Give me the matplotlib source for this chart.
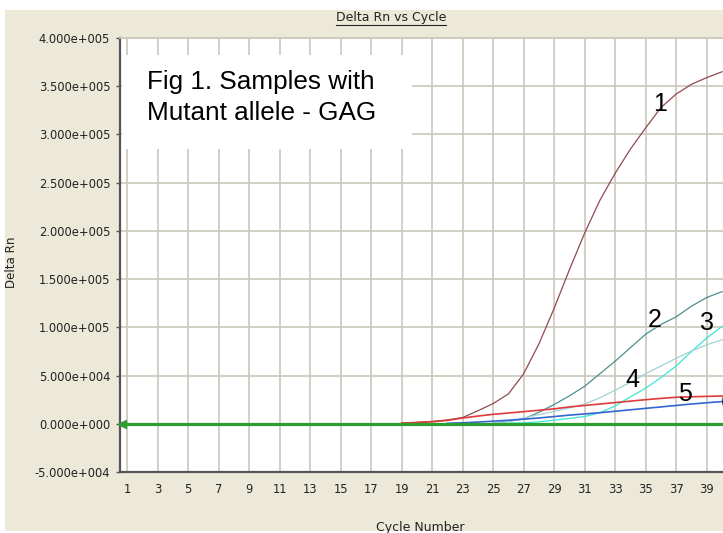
import matplotlib
matplotlib.use("Agg")
import matplotlib.pyplot as plt
from matplotlib.patches import Rectangle
from matplotlib.lines import Line2D

W, H, DPI = 723, 533, 100

# ---- data (Delta Rn per cycle) ----
cycles_a = list(range(19, 41))
curve1 = [0, 1500, 2500, 4000, 6500, 13500, 21000, 31000, 52000, 83000, 120000,
          160000, 198000, 232000, 260000, 285000, 307000, 328000, 342000,
          352000, 359000, 365000]
curve5 = [800, 1300, 2000, 3500, 6000, 8000, 9800, 11200, 12600, 14000, 15500,
          17500, 19000, 20500, 22000, 23500, 25000, 26300, 27500, 28000, 28400,
          28800]
cycles_b = list(range(22, 41))
curve6 = [500, 1000, 1800, 2700, 3700, 4800, 6000, 7500, 9000, 10200, 11500,
          13000, 14500, 16000, 17500, 19000, 20500, 21800, 23000]
cycles_c = list(range(25, 41))
curve2 = [1000, 2500, 5000, 12000, 20000, 29000, 39000, 52000, 65000, 79000,
          93000, 103000, 111000, 122000, 131000, 137000]
curve3 = [300, 600, 1000, 2000, 3800, 5500, 7500, 11500, 18500, 28000, 37000,
          48000, 60000, 75000, 89000, 101000]
curve4 = [1000, 2500, 6000, 9500, 13000, 16500, 20500, 27000, 35000, 43000,
          52000, 60000, 68000, 75500, 82000, 87000]
threshold = 0

series = [
    (cycles_a, curve1, "#8E4A50", "1", 35.94, 331700),
    (cycles_c, curve2, "#4A9090", "2", 35.6, 107700),
    (cycles_c, curve3, "#38E8D4", "3", 39.0, 104300),
    (cycles_c, curve4, "#A2D2D2", "4", 34.1, 45400),
    (cycles_a, curve5, "#E03A3A", "5", 37.58, 30600),
    (cycles_b, curve6, "#3366D0", "6", 40.38, 21300),
]

yticks = [-50000, 0, 50000, 100000, 150000, 200000, 250000, 300000, 350000, 400000]
ytick_labels = ["-5.000e+004", "0.000e+000", "5.000e+004", "1.000e+005",
                "1.500e+005", "2.000e+005", "2.500e+005", "3.000e+005",
                "3.500e+005", "4.000e+005"]
xticks = list(range(1, 40, 2))
xtick_labels = [str(v) for v in xticks]

title = "Delta Rn vs Cycle"
xlabel = "Cycle Number"
ylabel = "Delta Rn"
box_lines = ["Fig 1. Samples with", "Mutant allele - GAG"]

# ---- figure ----
fig = plt.figure(figsize=(W / DPI, H / DPI), dpi=DPI, facecolor="white")
fig.patches.append(Rectangle((5 / W, 2 / H), 1, (H - 12) / H,
                             transform=fig.transFigure, facecolor="#ECE9D8",
                             edgecolor="none", zorder=-10))

ax = fig.add_axes([120 / W, (H - 472) / H, (W - 120) / W, 434 / H])
ax.set_facecolor("white")
ax.set_xlim(0.54, 40.06)
ax.set_ylim(-50000, 400000)

grid_c = "#CBC7BA"
ax.set_xticks(xticks)
ax.set_xticklabels(xtick_labels)
ax.set_yticks(yticks)
ax.set_yticklabels(ytick_labels)
ax.grid(True, color=grid_c, linewidth=1.2)
ax.set_axisbelow(True)
ax.tick_params(axis="x", length=0, pad=8, labelsize=8.3, labelcolor="#222222")
ax.tick_params(axis="y", length=3, width=1, color="#555555", pad=4,
               labelsize=8.3, labelcolor="#222222")
for s in ["left", "bottom"]:
    ax.spines[s].set_color("#555555")
    ax.spines[s].set_linewidth(1.6)
ax.spines["top"].set_color(grid_c)
ax.spines["top"].set_linewidth(1.2)
ax.spines["right"].set_visible(False)

for xs, ys, col, lab, lx, ly in series:
    lw = 1.2 if lab in ("5", "6") else 0.9
    ax.plot(xs, ys, color=col, linewidth=lw, zorder=3)
    ax.text(lx, ly, lab, fontsize=18, family="Liberation Sans", ha="center",
            va="center", color="black", zorder=6)

green = "#2E9E32"
ax.axhline(threshold, color=green, linewidth=2.3, zorder=4)
ax.plot([0.66], [threshold], marker="<", markersize=6, color=green,
        clip_on=False, zorder=5)

# text box
fig.patches.append(Rectangle((122 / W, (H - 149) / H), 290 / W, 94 / H,
                             transform=fig.transFigure, facecolor="white",
                             edgecolor="none", zorder=5))
fig.text(147 / W, (H - 89) / H, box_lines[0], fontsize=18.8,
         family="Liberation Sans", va="baseline", ha="left", zorder=6)
fig.text(147 / W, (H - 120) / H, box_lines[1], fontsize=18.8,
         family="Liberation Sans", va="baseline", ha="left", zorder=6)

# title with underline
t = fig.text(391 / W, (H - 18) / H, title, fontsize=9, ha="center",
             va="center", color="#222222")
fig.canvas.draw()
bb = t.get_window_extent()
fig.add_artist(Line2D([bb.x0 / W, bb.x1 / W], [(H - 24.5) / H, (H - 24.5) / H],
                      transform=fig.transFigure, color="#222222", linewidth=0.8))

fig.text(420 / W, (H - 528) / H, xlabel, fontsize=9, ha="center",
         va="center", color="#222222")
fig.text(12 / W, (H - 262) / H, ylabel, fontsize=8.6, ha="center",
         va="center", rotation=90, color="#222222")

fig.savefig("out.png", dpi=DPI, facecolor=fig.get_facecolor())
